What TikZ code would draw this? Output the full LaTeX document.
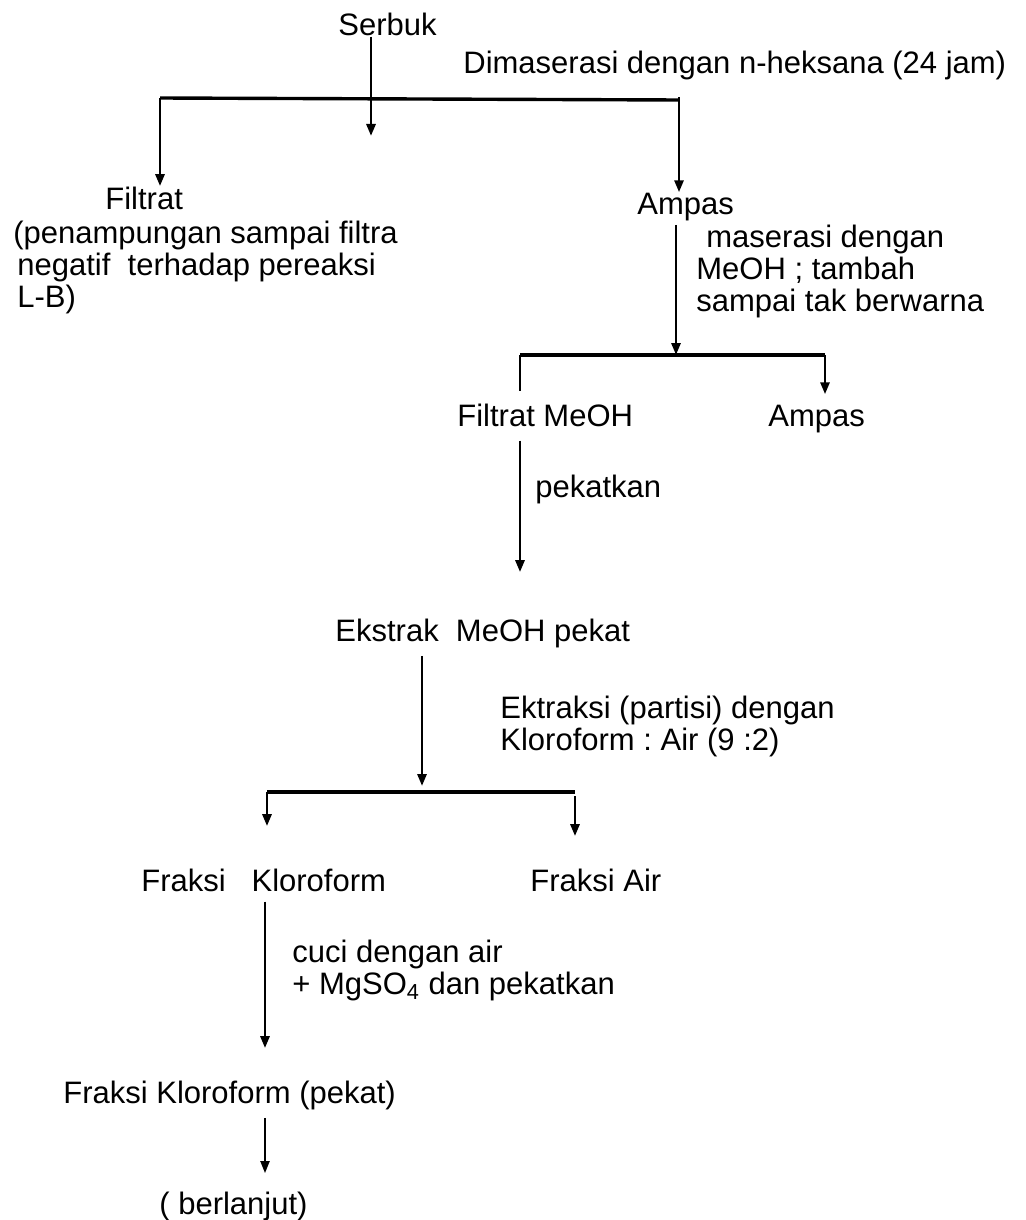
\documentclass[tikz,border=0pt]{standalone}
\usepackage{fontspec}
\setmainfont{Liberation Sans}
\usepackage{tikz}
\usetikzlibrary{arrows.meta, positioning}
\newcommand{\flowfont}{\fontsize{15.5}{16}\selectfont\frenchspacing}

\begin{document}
\begin{tikzpicture}[
  x=0.5pt, y=-0.5pt,
  lbl/.style={inner sep=0pt, anchor=base west, font=\flowfont},
  para/.style={inner sep=0pt, anchor=west, align=left, font=\flowfont},
  flow/.style={line width=1.4pt, -{Triangle[length=6pt, width=4.5pt]}},
  bar/.style={line width=1.7pt}
]
  \useasboundingbox (0,0) rectangle (1025,1220);

  \node[lbl] (serbuk) at (338,36) {Serbuk};
  \node[lbl] (heksana) at (463,74) {Dimaserasi dengan n-heksana (24 jam)};
  \node[lbl] (filtrat) at (105,209) {Filtrat};
  \node[para] (ket) at (13,267) {(penampungan sampai filtra\\\hspace{2pt}negatif\ \ terhadap pereaksi\\\hspace{2pt}L-B)};
  \node[lbl] (ampasa) at (637,214) {Ampas};
  \node[para] (meoh) at (696,271) {\hspace{5pt}maserasi dengan\\MeOH ; tambah\\sampai tak berwarna};
  \node[lbl] (filmeoh) at (457,426) {Filtrat MeOH};
  \node[lbl] (ampasb) at (768,426) {Ampas};
  \node[lbl] (pekatkan) at (535,497) {pekatkan};
  \node[lbl] (ekstrak) at (335,641) {Ekstrak\ \ MeOH pekat};
  \node[para] (partisi) at (500,726) {Ektraksi (partisi) dengan\\Kloroform : Air (9 :2)};
  \node[lbl] (fkloro) at (141,891) {Fraksi\ \ \ Kloroform};
  \node[lbl] (fair) at (530,891) {Fraksi Air};
  \node[para] (cuci) at (292,970) {cuci dengan air\\+ MgSO\textsubscript{4} dan pekatkan};
  \node[lbl] (fpekat) at (63,1103) {Fraksi Kloroform (pekat)};
  \node[lbl] (lanjut) at (159,1214) {( berlanjut)};

  \coordinate (bal) at (160,98);
  \coordinate (bam) at (371,136);
  \coordinate (bar) at (679,100);
  \coordinate (bbl) at (520,355);
  \coordinate (bbm) at (676,355);
  \coordinate (bbr) at (825,355);
  \coordinate (bcl) at (267,792);
  \coordinate (bcm) at (422,786);
  \coordinate (bcr) at (575,792);

  \draw[flow] (serbuk.south -| bam) -- (bam);
  \draw[bar] (bal) -- (bar);
  \draw[flow] (bal) -- (filtrat.north -| bal);
  \draw[flow] ([yshift=1.5pt]bar) -- (ampasa.north -| bar);

  \draw[flow, shorten <=2pt] (ampasa.south -| bbm) -- (bbm);
  \draw[bar] (bbl) -- (bbr);
  \draw[line width=1.4pt, shorten >=6pt] (bbl) -- (filmeoh.north -| bbl);
  \draw[flow, shorten >=5pt] (bbr) -- (ampasb.north -| bbr);

  \draw[flow, shorten <=7pt, shorten >=23pt] (filmeoh.south -| bbl) -- (ekstrak.north -| bbl);
  \draw[flow, shorten <=4pt] (ekstrak.south -| bcm) -- (bcm);
  \draw[bar] (bcl) -- (bcr);
  \draw[flow, shorten >=21pt] (bcl) -- (fkloro.north -| bcl);
  \draw[flow, shorten <=2pt, shorten >=16pt] (bcr) -- (fair.north -| bcr);

  \draw[flow, shorten <=5pt, shorten >=16pt] (fkloro.south -| 265,0) -- (fpekat.north -| 265,0);
  \draw[flow, line width=1pt, shorten <=4pt, shorten >=9pt] (fpekat.south -| 265,0) -- (lanjut.north -| 265,0);
\end{tikzpicture}
\end{document}
